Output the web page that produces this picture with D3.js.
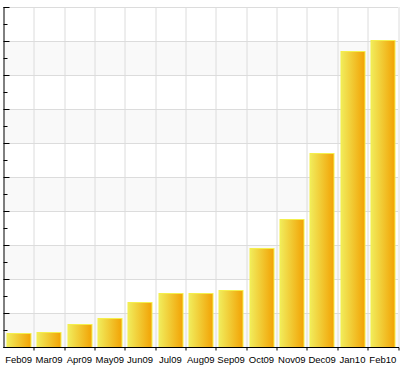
<!DOCTYPE html>
<html>
<head>
<meta charset="utf-8">
<script src="https://cdn.jsdelivr.net/npm/d3@7"></script>
<style>
  html, body { margin: 0; padding: 0; background: #fff; }
  svg { display: block; }
</style>
</head>
<body>
<script>
// month labels along the bottom
const months = ['Feb09', 'Mar09', 'Apr09', 'May09', 'Jun09', 'Jul09', 'Aug09',
                'Sep09', 'Oct09', 'Nov09', 'Dec09', 'Jan10', 'Feb10'];
// bar heights (axis has no labels, 0-100 scale)
const values = [4.0, 4.4, 6.7, 8.5, 13.2, 15.9, 15.8, 16.8, 29.1, 37.6, 57.1, 87.1, 90.3];
// y axis range and gridline step
const yMax = 100;
const yStep = 10;

const W = 405, H = 368;
const margin = {left: 3.5, right: 7, top: 7, bottom: 21};
const width = W - margin.left - margin.right,
      height = H - margin.top - margin.bottom;

const svg = d3.select('body').append('svg')
    .attr('width', W)
    .attr('height', H);

// gradient for the bars: pale yellow on the left, orange on the right
const defs = svg.append('defs');
const grad = defs.append('linearGradient')
    .attr('id', 'barGrad')
    .attr('x1', '0%').attr('x2', '100%')
    .attr('y1', '0%').attr('y2', '0%');
grad.append('stop').attr('offset', '0%').attr('stop-color', '#f1ec5c');
grad.append('stop').attr('offset', '100%').attr('stop-color', '#f2a204');

const g = svg.append('g')
    .attr('transform', 'translate(' + margin.left + ',' + margin.top + ')');

// scales
const xCell = d3.scaleBand().domain(months).range([0, width]);
const x = d3.scaleBand().domain(months).range([0, width])
    .paddingInner(0.2).paddingOuter(0.1);
const y = d3.scaleLinear().domain([0, yMax]).range([height, 0]);

const majors = d3.range(0, yMax + 0.001, yStep);
const minors = d3.range(yStep / 2, yMax, yStep);

// alternating background bands
g.selectAll('.band')
    .data(majors.slice(0, -1))
    .enter()
    .append('rect')
    .attr('class', 'band')
    .attr('x', 0)
    .attr('y', d => y(d + yStep))
    .attr('width', width)
    .attr('height', d => y(d) - y(d + yStep))
    .attr('fill', (d, i) => i % 2 === 0 ? '#f9f9f9' : '#ffffff');

// horizontal gridlines
g.selectAll('.hgrid')
    .data(majors)
    .enter()
    .append('line')
    .attr('x1', 0).attr('x2', width)
    .attr('y1', d => Math.round(y(d)) + 0.5)
    .attr('y2', d => Math.round(y(d)) + 0.5)
    .attr('stroke', '#dcdcdc')
    .attr('stroke-width', 1);

// vertical gridlines at the cell boundaries
const bounds = months.map(m => xCell(m)).concat([width]);
g.selectAll('.vgrid')
    .data(bounds.slice(1))
    .enter()
    .append('line')
    .attr('x1', d => Math.round(d) + 0.5)
    .attr('x2', d => Math.round(d) + 0.5)
    .attr('y1', 0).attr('y2', height)
    .attr('stroke', '#dcdcdc')
    .attr('stroke-width', 1);

// bars
g.selectAll('.bar')
    .data(values)
    .enter()
    .append('rect')
    .attr('class', 'bar')
    .attr('x', (d, i) => Math.round(x(months[i])) + 0.5)
    .attr('y', d => Math.round(y(d)) + 0.5)
    .attr('width', Math.round(x.bandwidth()))
    .attr('height', d => Math.round(y(0)) - Math.round(y(d)))
    .attr('fill', 'url(#barGrad)')
    .attr('stroke', '#f4ef4c')
    .attr('stroke-width', 1);

// y axis: ticks pointing inward, no labels
const yAxisG = g.append('g').attr('class', 'y-axis');
yAxisG.append('line')
    .attr('x1', 0.5).attr('x2', 0.5)
    .attr('y1', 0).attr('y2', height + 1)
    .attr('stroke', '#000');
yAxisG.selectAll('.major')
    .data(majors)
    .enter()
    .append('line')
    .attr('x1', 0).attr('x2', 6)
    .attr('y1', d => Math.round(y(d)) + 0.5)
    .attr('y2', d => Math.round(y(d)) + 0.5)
    .attr('stroke', '#000');
yAxisG.selectAll('.minor')
    .data(minors)
    .enter()
    .append('line')
    .attr('x1', 0).attr('x2', 4)
    .attr('y1', d => Math.round(y(d)) + 0.5)
    .attr('y2', d => Math.round(y(d)) + 0.5)
    .attr('stroke', '#000');

// x axis: labels from d3 axis, boundary ticks drawn by hand
const xAxis = d3.axisBottom(xCell).tickSize(0).tickPadding(9);
g.append('g')
    .attr('class', 'x-axis')
    .attr('transform', 'translate(0,' + (Math.round(height) + 0.5) + ')')
    .call(xAxis)
    .call(s => s.select('.domain').remove())
    .selectAll('text')
        .style('font-family', '"Liberation Sans", Arial, sans-serif')
        .style('font-size', '9.5px')
        .attr('fill', '#000');

const xLine = g.append('g')
    .attr('transform', 'translate(0,' + (Math.round(height) + 0.5) + ')');
xLine.append('line')
    .attr('x1', 0).attr('x2', width + 1)
    .attr('y1', 0).attr('y2', 0)
    .attr('stroke', '#000');
xLine.selectAll('.xtick')
    .data(bounds.slice(1))
    .enter()
    .append('line')
    .attr('x1', d => Math.round(d) + 0.5)
    .attr('x2', d => Math.round(d) + 0.5)
    .attr('y1', 0).attr('y2', 3)
    .attr('stroke', '#000');
</script>
</body>
</html>
